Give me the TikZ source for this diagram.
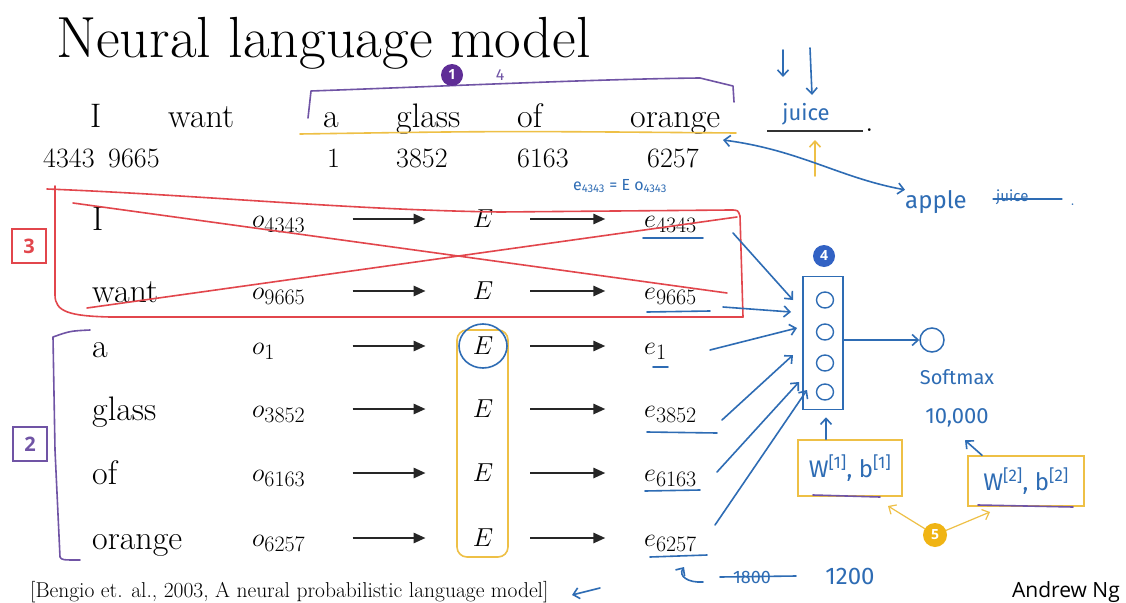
\RequirePackage{fix-cm}
\documentclass[tikz,border=0pt]{standalone}
\usepackage{fontspec}
\newfontfamily\hand{Fira Sans}
\newfontfamily\ngfont{Open Sans}
\usetikzlibrary{arrows.meta,shapes.geometric}
\DeclareMathSizes{26}{26}{22}{16}
\definecolor{hblue}{RGB}{46,108,180}
\definecolor{hred}{RGB}{226,70,76}
\definecolor{hpurple}{RGB}{112,84,165}
\definecolor{hyellow}{RGB}{238,192,70}
\definecolor{dotpurple}{RGB}{95,45,150}
\definecolor{dotblue}{RGB}{50,98,196}
\definecolor{dotyellow}{RGB}{240,180,20}
\tikzset{
 word/.style={anchor=base west, inner sep=0, font=\fontsize{34}{34}\selectfont},
 numtxt/.style={anchor=base west, inner sep=0, font=\fontsize{28}{28}\selectfont},
 mth/.style={anchor=base west, inner sep=0, font=\fontsize{26}{26}\selectfont},
 bigarr/.style={-{Triangle[length=12pt,width=10pt]}, line width=2.6pt, black!85},
 pen/.style={line width=1.6pt, line cap=round, line join=round},
 bpen/.style={pen, draw=hblue},
 rpen/.style={pen, draw=hred},
 ppen/.style={pen, draw=hpurple},
 ypen/.style={pen, draw=hyellow},
 barb/.style={-{Straight Barb[length=6pt,width=11pt]}},
 hw/.style={text=hblue, inner sep=0, font=\hand\fontsize{#1}{#1}\selectfont},
 tag/.style={draw=#1, text=#1, line width=2pt, minimum size=34, inner sep=0, font=\ngfont\bfseries\fontsize{20}{20}\selectfont},
 dot/.style={circle, fill=#1, text=white, minimum size=22, inner sep=0, font=\ngfont\bfseries\fontsize{14}{14}\selectfont},
 unit/.style={ellipse, draw=hblue, line width=1.4pt, minimum width=17, minimum height=16, inner sep=0},
 wbox/.style={draw=hyellow, line width=1.5pt, inner sep=0, text=hblue, font=\hand\fontsize{24}{24}\selectfont},
}
\begin{document}
\begin{tikzpicture}[x=1pt,y=-1pt]
\useasboundingbox (0,0) rectangle (1126,602);
\fill[white] (0,0) rectangle (1126,602);

% title
\node[anchor=base west, inner sep=0, text depth=0pt, font=\fontsize{58}{58}\selectfont] (title) at (56,58) {Neural language model};

% sentence
\node[word] (tI) at (90,127) {I};
\node[word] (twant) at (168,127) {want};
\node[word] (ta) at (323,127) {a};
\node[word] (tglass) at (396,127) {glass};
\node[word] (tof) at (517,127) {of};
\node[word] (torange) at (630,127) {orange};
\node[numtxt] (n1) at (43,167) {4343};
\node[numtxt] (n2) at (108,167) {9665};
\node[numtxt] (n3) at (327,167) {1};
\node[numtxt] (n4) at (396,167) {3852};
\node[numtxt] (n5) at (517,167) {6163};
\node[numtxt] (n6) at (647,167) {6257};

% purple bracket 1 and yellow underline
\draw[ppen] (308,118) -- (311,91) .. controls (450,86) and (600,79) .. (700,78) -- (733,86) -- (734,102);
\node[dot=dotpurple] (d1) at (452,75) {1};
\node[text=hpurple, inner sep=0, font=\hand\fontsize{16}{16}\selectfont] (four) at (500,75) {4};
\draw[ypen] (300,134) .. controls (500,131) .. (736,133);

% juice
\node[hw=22] (juice) at (806,114) {juice};
\coordinate (jl) at (767,131);
\coordinate (jr) at (863,131);
\draw[line width=1.4pt, black!80] (jl) -- (jr);
\node[word] (dotj) at (865,131) {.};
\coordinate (ja1) at (783,50);
\coordinate (ja2) at (783,77);
\coordinate (jb1) at (810,48);
\coordinate (jb2) at (812,95);
\draw[bpen, barb] (ja1) -- (ja2);
\draw[bpen, barb] (jb1) -- (jb2);
\coordinate (ya1) at (815,176);
\coordinate (ya2) at (815,140);
\draw[ypen, barb] (ya1) -- (ya2);
\node[hw=24, anchor=base west] (apple) at (905,208) {apple};
\node[hw=15, anchor=base west] (juice2) at (996,201) {juice};
\draw[bpen, line width=1.2pt] (993,199) -- (1062,199);
\node[anchor=base west, inner sep=0, text=hblue, font=\fontsize{20}{20}\selectfont] (dot2) at (1070,205) {.};
\coordinate (da) at (723,140);
\draw[bpen, {Straight Barb[length=6pt,width=11pt]}-{Straight Barb[length=6pt,width=11pt]}] (da) .. controls (800,150) and (840,178) .. (apple.north west);

% annotation
\node[hw=16] (eq) at (620,186) {e\textsubscript{4343} = E o\textsubscript{4343}};

% rows
\foreach \w/\s/\r/\n in {I/4343/218/1, want/9665/290/2, a/1/345/3, glass/3852/408/4, of/6163/472/5, orange/6257/537/6}{
  \node[word] (w\n) at (92,{\r+12}) {\w};
  \node[mth] (o\n) at (252,{\r+9}) {$o_{\s}$};
  \node[mth, anchor=center] (E\n) at (483,{\r+1}) {$E$};
  \node[mth] (e\n) at (644,{\r+9}) {$e_{\s}$};
  \draw[bigarr] ([xshift=-120pt]E\n.west) -- ([xshift=-47pt]E\n.west);
  \draw[bigarr] ([xshift=37pt]E\n.east) -- ([xshift=112pt]E\n.east);
}

% underlines of e's
\draw[bpen] (643,238) -- (703,238);
\draw[bpen] (647,312) -- (710,311);
\draw[bpen] (653,367) -- (668,367);
\draw[bpen] (647,432) -- (717,433);
\draw[bpen] (645,491) -- (700,490);
\draw[bpen] (650,557) -- (707,555);

% E column
\draw[ypen, rounded corners=10pt] (457,330) rectangle (508,557);
\draw[bpen] (483,346) ellipse (24 and 22);

% red box with cross
\draw[rpen] (47,189) .. controls (200,195) and (350,210) .. (500,212) -- (730,210) .. controls (738,210) .. (740,216) -- (743,317);
\draw[rpen] (55,186) -- (55,295) .. controls (55,312) and (70,316) .. (110,317) -- (743,317);
\draw[rpen] (73,203) -- (727,293);
\draw[rpen] (87,308) -- (737,217);
\node[tag=hred] (t3) at (29,246) {3};

% purple bracket 2
\draw[ppen] (90,330) .. controls (70,331) .. (53,337) -- (55,450) -- (60,557) .. controls (62,560) .. (80,560);
\node[tag=hpurple] (t2) at (30,444) {2};

% hidden layer
\node[draw=hblue, line width=1.5pt, minimum width=40, minimum height=133, inner sep=0] (H) at (823,343) {};
\node[unit] (u1) at (825,300) {};
\node[unit] (u2) at (825,332) {};
\node[unit] (u3) at (825,363) {};
\node[unit] (u4) at (825,392) {};
\node[dot=dotblue] (d4) at (824,256) {4};

\coordinate (s1) at (733,233); \coordinate (t1) at (793,300);
\coordinate (s2) at (723,307); \coordinate (t2) at (791,312);
\coordinate (s3) at (710,350); \coordinate (t3) at (797,328);
\coordinate (s4) at (722,420); \coordinate (t4) at (793,355);
\coordinate (s5) at (717,472); \coordinate (t5) at (799,382);
\coordinate (s6) at (715,525); \coordinate (t6) at (807,390);
\foreach \i in {1,...,6}{ \draw[bpen, barb] (s\i) -- (t\i); }

% output
\node[circle, draw=hblue, line width=1.5pt, minimum size=24, inner sep=0] (S) at (932,340) {};
\draw[bpen, barb] (H.east |- S.west) -- (S.west);
\node[hw=20] (soft) at (957,377) {Softmax};
\node[hw=22] (tenk) at (957,418) {10,000};

% weight boxes
\node[wbox, minimum width=104, minimum height=56] (W1) at (850,468) {W\textsuperscript{[1]}, b\textsuperscript{[1]}};
\node[wbox, minimum width=116, minimum height=50] (W2) at (1026,481) {W\textsuperscript{[2]}, b\textsuperscript{[2]}};
\draw[bpen, barb] ([xshift=-24pt]W1.north) -- ++(0,-22);
\draw[bpen, barb] ([xshift=-44pt]W2.north) -- ++(-17,-15);
\draw[ppen] (813,495) -- (880,497);
\draw[ppen] (978,505) -- (1073,507);
\node[dot=dotyellow, minimum size=24] (d5) at (935,535) {5};
\coordinate (y1) at (888,506);
\coordinate (y2) at (990,512);
\draw[ypen, line width=1.2pt, barb] (d5) -- (y1);
\draw[ypen, line width=1.2pt, barb] (d5) -- (y2);

% bottom
\node[anchor=base west, inner sep=0, font=\fontsize{21.5}{21.5}\selectfont] (cite) at (30,597) {[Bengio et. al., 2003, A neural probabilistic language model]};
\coordinate (ca) at (600,588);
\coordinate (cb) at (572,595);
\draw[bpen, barb] (ca) -- (cb);
\coordinate (hk1) at (703,582);
\coordinate (hk2) at (684,567);
\draw[bpen, barb] (hk1) .. controls (688,583) and (678,576) .. (hk2);
\node[hw=18] (n1800) at (752,577) {1800};
\draw[bpen] (720,577) -- (796,576);
\node[hw=24] (n1200) at (850,576) {1200};
\node[anchor=base east, inner sep=0, font=\ngfont\fontsize{21}{21}\selectfont] (ng) at (1120,597) {Andrew Ng};
\end{tikzpicture}
\end{document}
